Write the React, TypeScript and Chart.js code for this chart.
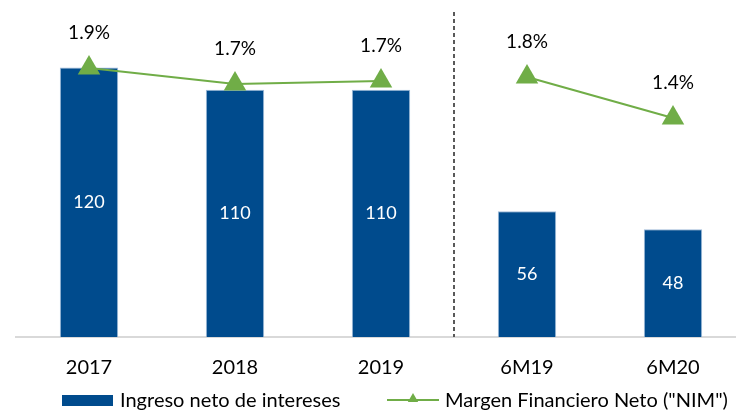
import React, { useEffect, useRef } from 'react';
import { Chart, registerables } from 'chart.js';

Chart.register(...registerables);

const categories = ['2017', '2018', '2019', '6M19', '6M20'];
const ingresoNeto = [120, 110, 110, 56, 48];
const nim = [1.9, 1.74, 1.77, 1.81, 1.4];
const nimLabels = ['1.9%', '1.7%', '1.7%', '1.8%', '1.4%'];
const legendLabels = ['Ingreso neto de intereses', 'Margen Financiero Neto ("NIM")'];
const breakAfterIndex = 2;

const BLUE = '#004b8d';
const GREEN = '#70ad47';
const FONT = 'Lato, "Open Sans", sans-serif';

function drawTriangle(ctx: CanvasRenderingContext2D, x: number, y: number, r: number) {
  ctx.beginPath();
  let rad = 0;
  ctx.moveTo(x + Math.sin(rad) * r, y - Math.cos(rad) * r);
  rad += (2 * Math.PI) / 3;
  ctx.lineTo(x + Math.sin(rad) * r, y - Math.cos(rad) * r);
  rad += (2 * Math.PI) / 3;
  ctx.lineTo(x + Math.sin(rad) * r, y - Math.cos(rad) * r);
  ctx.closePath();
  ctx.fill();
}

const overlayPlugin = {
  id: 'overlay',
  beforeDatasetsDraw(chart: any) {
    const ctx = chart.ctx as CanvasRenderingContext2D;
    const xs = chart.scales.x;
    const x = (xs.getPixelForValue(breakAfterIndex) + xs.getPixelForValue(breakAfterIndex + 1)) / 2;
    ctx.save();
    ctx.strokeStyle = '#595959';
    ctx.lineWidth = 2;
    ctx.setLineDash([4, 3]);
    ctx.beginPath();
    ctx.moveTo(x, 12);
    ctx.lineTo(x, chart.chartArea.bottom);
    ctx.stroke();
    ctx.restore();
  },
  afterDatasetsDraw(chart: any) {
    const ctx = chart.ctx as CanvasRenderingContext2D;
    ctx.save();
    ctx.textAlign = 'center';
    ctx.textBaseline = 'middle';
    const barMeta = chart.getDatasetMeta(0);
    ctx.fillStyle = '#ffffff';
    ctx.font = `18px ${FONT}`;
    barMeta.data.forEach((el: any, i: number) => {
      ctx.fillText(String(ingresoNeto[i]), el.x, (el.y + el.base) / 2);
    });
    const lineMeta = chart.getDatasetMeta(1);
    ctx.fillStyle = '#000000';
    ctx.font = `19px ${FONT}`;
    lineMeta.data.forEach((el: any, i: number) => {
      ctx.fillText(nimLabels[i], el.x, el.y - 35);
    });
    ctx.restore();
  },
  afterDraw(chart: any) {
    const ctx = chart.ctx as CanvasRenderingContext2D;
    ctx.save();
    ctx.font = `20px ${FONT}`;
    ctx.textBaseline = 'middle';
    ctx.textAlign = 'left';
    ctx.fillStyle = BLUE;
    ctx.fillRect(62, 395, 51, 11);
    ctx.fillStyle = '#000000';
    ctx.fillText(legendLabels[0], 120, 401);
    ctx.strokeStyle = GREEN;
    ctx.lineWidth = 2;
    ctx.beginPath();
    ctx.moveTo(387, 400);
    ctx.lineTo(439, 400);
    ctx.stroke();
    ctx.fillStyle = GREEN;
    drawTriangle(ctx, 413, 399, 6);
    ctx.fillStyle = '#000000';
    ctx.fillText(legendLabels[1], 445, 401);
    ctx.restore();
  },
};

export default function App() {
  const ref = useRef<HTMLCanvasElement | null>(null);
  useEffect(() => {
    if (!ref.current) return;
    Chart.defaults.font.family = FONT;
    const chart = new Chart(ref.current, {
      type: 'bar',
      data: {
        labels: categories,
        datasets: [
          {
            type: 'bar',
            label: legendLabels[0],
            data: ingresoNeto,
            backgroundColor: BLUE,
            borderColor: '#9fbbd9',
            borderWidth: 1,
            barPercentage: 0.4,
            categoryPercentage: 1,
            yAxisID: 'y',
            order: 1,
          },
          {
            type: 'line',
            label: legendLabels[1],
            data: nim,
            borderColor: GREEN,
            backgroundColor: GREEN,
            borderWidth: 2,
            pointStyle: 'triangle',
            pointRadius: 13,
            pointBorderWidth: 0,
            pointBackgroundColor: GREEN,
            yAxisID: 'y1',
            order: 0,
            clip: false,
            segment: {
              borderColor: (c: any) => (c.p0DataIndex === breakAfterIndex ? 'transparent' : GREEN),
            },
          } as any,
        ],
      },
      options: {
        responsive: false,
        animation: false,
        devicePixelRatio: 1,
        layout: { autoPadding: false, padding: { left: 16, right: 0, top: 0, bottom: 0 } },
        plugins: { legend: { display: false }, tooltip: { enabled: false } },
        scales: {
          x: {
            grid: { display: false, drawTicks: false },
            border: { display: true, color: '#d9d9d9', width: 2 },
            ticks: { color: '#000000', font: { size: 20, family: FONT }, padding: 19 },
            afterFit: (s: any) => {
              s.height = 75;
            },
          },
          y: { display: false, min: 0, max: 150 },
          y1: { display: false, min: -0.79, max: 2.58, position: 'right' },
        },
      },
      plugins: [overlayPlugin],
    });
    return () => chart.destroy();
  }, []);
  return (
    <div style={{ position: 'fixed', left: 0, top: 0, width: 736, height: 412, overflow: 'hidden', background: '#fff' }}>
      <canvas ref={ref} width={746} height={412} style={{ display: 'block' }} />
    </div>
  );
}
